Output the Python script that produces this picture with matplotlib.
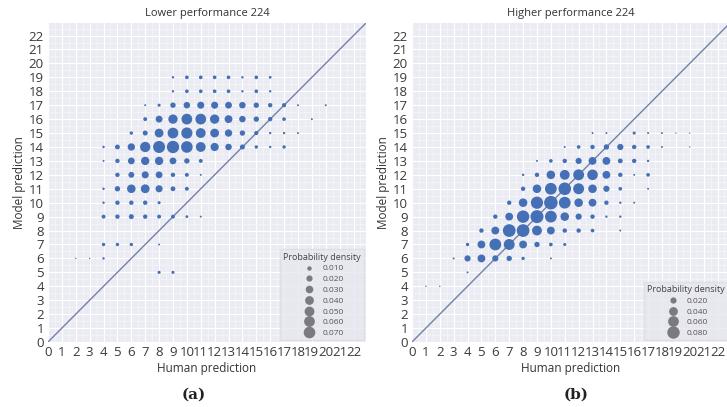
import numpy as np
import matplotlib
matplotlib.use("Agg")
import matplotlib.pyplot as plt
from matplotlib.lines import Line2D

plt.rcParams['font.family'] = ['Open Sans', 'DejaVu Sans']

# (human, model, density) cells for each model
low_human = [9, 10, 11, 12, 13, 14, 15, 16,
             9, 10, 11, 12, 13, 14, 15, 16,
             7, 8, 9, 10, 11, 12, 13, 14, 15, 16, 17, 18, 20,
             7, 8, 9, 10, 11, 12, 13, 14, 15, 16, 17, 19,
             6, 7, 8, 9, 10, 11, 12, 13, 14, 15, 16, 17, 18,
             4, 5, 6, 7, 8, 9, 10, 11, 12, 13, 14, 15, 16, 17,
             4, 5, 6, 7, 8, 9, 10, 11,
             5, 6, 7, 8, 9, 10, 11,
             4, 5, 6, 7, 8, 9, 10,
             4, 5, 6, 7, 8,
             4, 5, 6, 7, 8, 9, 10, 11,
             4, 5, 6, 8,
             2, 3, 4,
             8, 9]
low_model = ([19] * 8 + [18] * 8 + [17] * 13 + [16] * 12 + [15] * 13 +
             [14] * 14 + [13] * 8 + [12] * 7 + [11] * 7 + [10] * 5 +
             [9] * 8 + [7] * 4 + [6] * 3 + [5] * 2)
low_density = [0.003, 0.007, 0.007, 0.007, 0.007, 0.003, 0.007, 0.004,
               0.003, 0.007, 0.007, 0.007, 0.007, 0.003, 0.007, 0.003,
               0.002, 0.005, 0.015, 0.022, 0.026, 0.026, 0.024, 0.022, 0.015, 0.010, 0.009, 0.002, 0.002,
               0.008, 0.025, 0.045, 0.060, 0.060, 0.045, 0.032, 0.022, 0.015, 0.010, 0.007, 0.002,
               0.006, 0.013, 0.040, 0.060, 0.065, 0.050, 0.040, 0.028, 0.015, 0.009, 0.003, 0.003, 0.002,
               0.003, 0.012, 0.028, 0.055, 0.075, 0.079, 0.070, 0.050, 0.035, 0.022, 0.013, 0.006, 0.003, 0.006,
               0.002, 0.010, 0.024, 0.036, 0.036, 0.024, 0.015, 0.008,
               0.010, 0.018, 0.026, 0.024, 0.010, 0.008, 0.002,
               0.003, 0.015, 0.038, 0.040, 0.026, 0.012, 0.008,
               0.003, 0.010, 0.010, 0.010, 0.005,
               0.008, 0.010, 0.013, 0.010, 0.008, 0.008, 0.004, 0.002,
               0.006, 0.006, 0.006, 0.002,
               0.001, 0.001, 0.003,
               0.005, 0.005]

high_human = [13, 14, 16, 17, 18, 19, 20,
              11, 12, 13, 14, 15, 16, 17, 18, 20,
              9, 10, 11, 12, 13, 14, 15, 16, 17,
              8, 9, 10, 11, 12, 13, 14, 15, 16, 17,
              8, 9, 10, 11, 12, 13, 14, 15, 17,
              7, 8, 9, 10, 11, 12, 13, 14, 15, 16,
              6, 7, 8, 9, 10, 11, 12, 13, 14, 15,
              5, 6, 7, 8, 9, 10, 11, 12, 13, 15,
              4, 5, 6, 7, 8, 9, 10, 11,
              3, 4, 5, 6, 7, 8, 10,
              4,
              1, 2]
high_model = ([15] * 7 + [14] * 9 + [13] * 9 + [12] * 10 + [11] * 9 +
              [10] * 10 + [9] * 10 + [8] * 10 + [7] * 8 + [6] * 7 +
              [5] * 1 + [4] * 2)
high_density = [0.002, 0.002, 0.005, 0.002, 0.002, 0.001, 0.001,
                0.002, 0.007, 0.010, 0.015, 0.020, 0.010, 0.007, 0.002, 0.001,
                0.002, 0.007, 0.010, 0.020, 0.032, 0.032, 0.012, 0.010, 0.003,
                0.003, 0.010, 0.038, 0.050, 0.062, 0.058, 0.032, 0.010, 0.002, 0.007,
                0.010, 0.038, 0.072, 0.082, 0.062, 0.038, 0.020, 0.007, 0.002,
                0.010, 0.038, 0.078, 0.095, 0.072, 0.038, 0.032, 0.010, 0.003, 0.002,
                0.010, 0.032, 0.080, 0.088, 0.072, 0.038, 0.020, 0.010, 0.003, 0.003,
                0.010, 0.032, 0.084, 0.084, 0.050, 0.032, 0.010, 0.010, 0.007, 0.002,
                0.006, 0.032, 0.072, 0.062, 0.032, 0.015, 0.007, 0.005,
                0.002, 0.020, 0.032, 0.020, 0.015, 0.006, 0.002,
                0.002,
                0.001, 0.001]

low_legend = [0.010, 0.020, 0.030, 0.040, 0.050, 0.060, 0.070]
high_legend = [0.020, 0.040, 0.060, 0.080]
tick_values = list(range(0, 23))

SIZE_SCALE = 1000.0  # marker area (pt^2) per unit density
DOT_COLOR = "#4670b6"
BG = "#ebebf3"

fig = plt.figure(figsize=(7.27, 4.07), dpi=100)
fig.patch.set_facecolor("white")

ax_a = fig.add_axes([48 / 727, 1 - 342 / 407, 318 / 727, 319 / 407])
ax_b = fig.add_axes([412 / 727, 1 - 342 / 407, 318 / 727, 319 / 407])


def draw_panel(ax, hx, my, dens, title, legend_vals, letter, letter_x):
    ax.set_facecolor(BG)
    lim = 22.9
    ax.set_xlim(0, lim)
    ax.set_ylim(0, lim)
    ax.set_xticks(tick_values)
    ax.set_yticks(tick_values)
    ax.set_xticks(np.arange(0, lim, 0.5), minor=True)
    ax.set_yticks(np.arange(0, lim, 0.5), minor=True)
    ax.grid(True, which="major", color="white", lw=0.8)
    ax.grid(True, which="minor", color="#f6f6fa", lw=0.5)
    ax.set_axisbelow(True)
    ax.tick_params(which="both", length=0, labelsize=9.5, labelcolor="#3a3a3a", pad=3)
    for s in ax.spines.values():
        s.set_visible(False)
    ax.plot([0, lim], [0, lim], color="#7282a8", lw=1.0, zorder=2)
    ax.scatter(hx, my, s=np.array(dens) * SIZE_SCALE, color=DOT_COLOR,
               edgecolors="none", zorder=3)
    ax.set_title(title, fontsize=8, color="#333333", pad=5)
    ax.set_xlabel("Human prediction", fontsize=8.5, color="#333333", labelpad=2)
    ax.set_ylabel("Model prediction", fontsize=8.5, color="#333333", labelpad=2)
    handles = [Line2D([], [], ls="none", marker="o", color="#7a7a80",
                      markeredgewidth=0, markersize=np.sqrt(v * SIZE_SCALE))
               for v in legend_vals]
    labels = [f"{v:.3f}" for v in legend_vals]
    leg = ax.legend(handles, labels, title="Probability density", loc="lower right",
                    fontsize=6, title_fontsize=6.5, frameon=True, borderpad=0.4,
                    labelspacing=0.35, handletextpad=0.6, borderaxespad=0.2)
    leg.get_frame().set_facecolor("#e6e6ee")
    leg.get_frame().set_edgecolor("#dcdce6")
    for t in leg.get_texts():
        t.set_color("#555555")
    leg.get_title().set_color("#444444")
    fig.text(letter_x / 727, 1 - 395 / 407, letter, ha="center", va="center",
             fontsize=11, fontweight="bold", family="DejaVu Serif", color="#222222")


draw_panel(ax_a, low_human, low_model, low_density, "Lower performance 224",
           low_legend, "(a)", 194)
draw_panel(ax_b, high_human, high_model, high_density, "Higher performance 224",
           high_legend, "(b)", 576)

fig.savefig("out.png", dpi=100, facecolor="white")
